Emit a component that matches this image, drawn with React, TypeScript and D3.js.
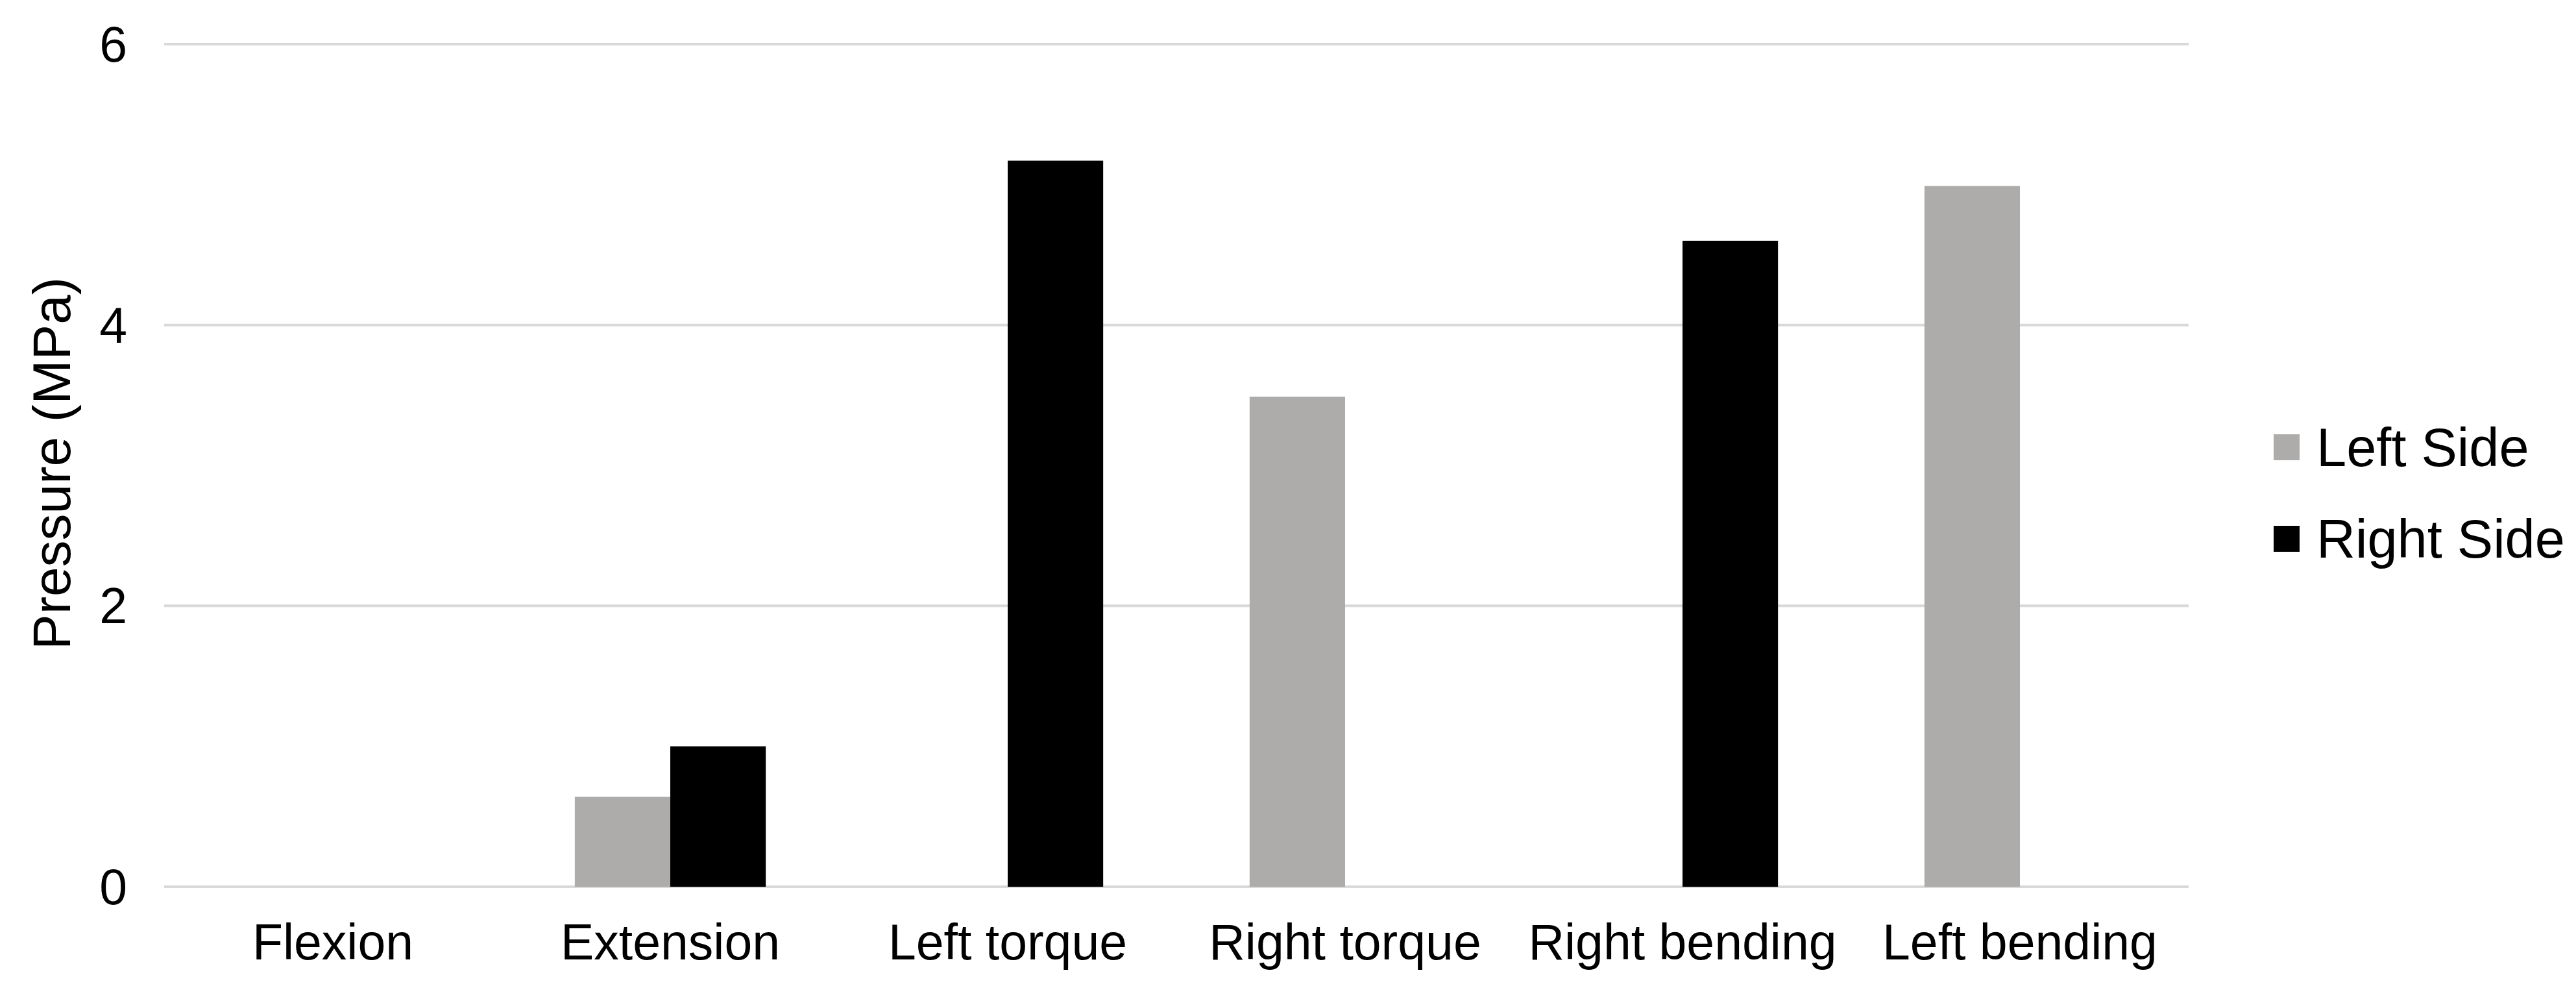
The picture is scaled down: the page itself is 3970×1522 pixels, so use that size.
import React from "react";
import * as d3 from "d3";

const categories = ["Flexion", "Extension", "Left torque", "Right torque", "Right bending", "Left bending"];
const seriesNames = ["Left Side", "Right Side"];
const leftSide = [0, 0.64, 0, 3.49, 0, 4.99];
const rightSide = [0, 1.0, 5.17, 0, 4.6, 0];
const yTicks = [0, 2, 4, 6];
const colors = ["#AEABAB", "#000000"];

const W = 3970;
const H = 1522;
const FONT = "'Liberation Sans', Arial, sans-serif";

export default function App() {
  const x = d3.scaleBand<string>().domain(categories).range([253, 3373]).paddingInner(0).paddingOuter(0);
  const bw = x.bandwidth();
  const groupW = bw * 0.566;
  const xs = d3.scaleBand<string>().domain(seriesNames).range([(bw - groupW) / 2, (bw + groupW) / 2]).padding(0);
  const y = d3.scaleLinear().domain([0, 6]).range([1366, 68]);
  const values = [leftSide, rightSide];

  return (
    <svg width={W} height={H} style={{ position: "absolute", left: 0, top: 0, display: "block", background: "#fff" }}>
      <rect x={0} y={0} width={W} height={H} fill="#fff" />
      {yTicks.map((t) => (
        <line key={"g" + t} x1={x.range()[0]} x2={x.range()[1]} y1={y(t)} y2={y(t)} stroke="#D9D9D9" strokeWidth={4} />
      ))}
      {yTicks.map((t) => (
        <text key={"t" + t} x={196} y={y(t)} dy="0.35em" textAnchor="end" fontFamily={FONT} fontSize={77} fill="#000">
          {t}
        </text>
      ))}
      {categories.map((c, i) =>
        seriesNames.map((s, j) => {
          const v = values[j][i];
          return (
            <rect
              key={c + s}
              x={(x(c) ?? 0) + (xs(s) ?? 0)}
              y={y(v)}
              width={xs.bandwidth()}
              height={y(0) - y(v)}
              fill={colors[j]}
            />
          );
        })
      )}
      {categories.map((c) => (
        <text key={"c" + c} x={(x(c) ?? 0) + bw / 2} y={1478} textAnchor="middle" fontFamily={FONT} fontSize={77} fill="#000">
          {c}
        </text>
      ))}
      <text transform="translate(108,714) rotate(-90)" textAnchor="middle" fontFamily={FONT} fontSize={82} fill="#000">
        Pressure (MPa)
      </text>
      {seriesNames.map((s, j) => (
        <g key={"l" + s} transform={`translate(3504, ${689 + j * 141})`}>
          <rect x={0} y={-20} width={40} height={40} fill={colors[j]} />
          <text x={66} y={0} dy="0.35em" fontFamily={FONT} fontSize={83} fill="#000">
            {s}
          </text>
        </g>
      ))}
    </svg>
  );
}
